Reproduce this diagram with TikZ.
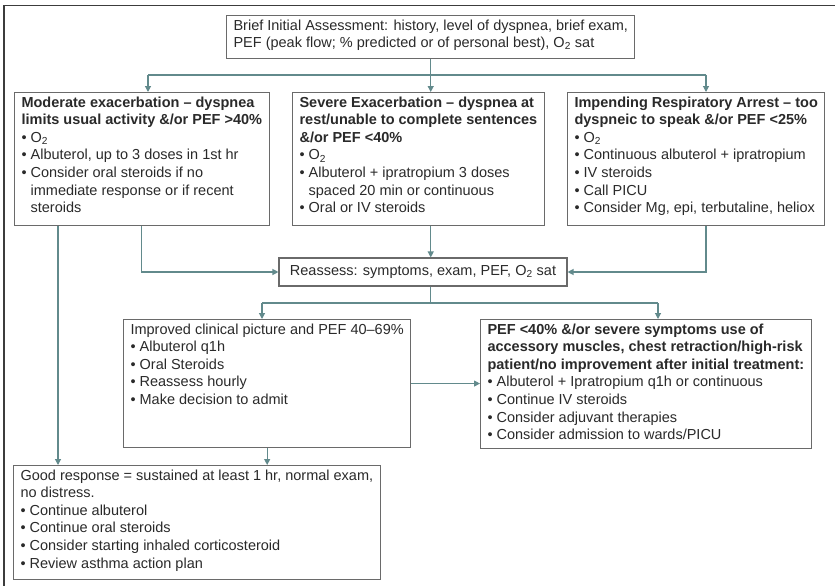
\documentclass[tikz,border=0pt]{standalone}
\usepackage{fontspec}
\setmainfont{Liberation Sans}
\usetikzlibrary{arrows.meta}
\definecolor{txt}{HTML}{2A2A2A}
\definecolor{bord}{HTML}{6A6A6A}
\definecolor{linkc}{HTML}{628A8C}
\definecolor{frm}{HTML}{3C3C3C}
\newcommand\bx[3]{\begin{minipage}[t][#2pt][t]{#1pt}#3\end{minipage}}
\newcommand\PL[1]{\hbox{#1}}
\newcommand\BL[1]{\hbox{\textbullet\ #1}}
\newcommand\CL[1]{\hbox{\phantom{\textbullet\ }#1}}
\newcommand\Ox{O\textsubscript{2}}
\begin{document}
\begin{tikzpicture}[x=1pt,y=-1pt,
  box/.style={draw=bord, line width=1.1pt, inner xsep=7pt, inner ysep=4pt, anchor=north west,
    text=txt, font=\fontsize{14.5}{17.6}\selectfont},
  link/.style={draw=linkc, line width=1.2pt},
  arr/.style={link, -{Triangle[width=6pt,length=6pt]}}]
\useasboundingbox (0,0) rectangle (835,586);
\fill[white] (0,0) rectangle (835,586);
\draw[frm, line width=1.8pt] (4,586) -- (4,5.5) -- (835,5.5);

\node[box] (top) at (226,15) {\bx{396}{35}{%
  \PL{Brief Initial Assessment: history, level of dyspnea, brief exam,}%
  \PL{PEF (peak flow; \% predicted or of personal best), \Ox\ sat}}};

\node[box] (mod) at (14,92) {\bx{255}{125}{%
  \PL{\bfseries Moderate exacerbation – dyspnea}%
  \PL{\bfseries limits usual activity \&/or PEF >40\%}%
  \BL{\Ox}%
  \BL{Albuterol, up to 3 doses in 1st hr}%
  \BL{Consider oral steroids if no}%
  \CL{immediate response or if recent}%
  \CL{steroids}}};

\node[box] (sev) at (292,92) {\bx{252}{125}{%
  \PL{\bfseries Severe Exacerbation – dyspnea at}%
  \PL{\bfseries rest/unable to complete sentences}%
  \PL{\bfseries \&/or PEF <40\%}%
  \BL{\Ox}%
  \BL{Albuterol + ipratropium 3 doses}%
  \CL{spaced 20 min or continuous}%
  \BL{Oral or IV steroids}}};

\node[box] (imp) at (567,92) {\bx{250}{125}{%
  \PL{\bfseries Impending Respiratory Arrest – too}%
  \PL{\bfseries dyspneic to speak \&/or PEF <25\%}%
  \BL{\Ox}%
  \BL{Continuous albuterol + ipratropium}%
  \BL{IV steroids}%
  \BL{Call PICU}%
  \BL{Consider Mg, epi, terbutaline, heliox}}};

\node[box, anchor=center, minimum width=288pt, minimum height=28pt] (rea) at (423,272)
  {Reassess: symptoms, exam, PEF, \Ox\ sat};

\node[box] (impr) at (123,319) {\bx{293}{120}{%
  \PL{Improved clinical picture and PEF 40–69\%}%
  \BL{Albuterol q1h}%
  \BL{Oral Steroids}%
  \BL{Reassess hourly}%
  \BL{Make decision to admit}}};

\node[box] (pef) at (480,319) {\bx{333}{121}{%
  \PL{\bfseries PEF <40\% \&/or severe symptoms use of}%
  \PL{\bfseries accessory muscles, chest retraction/high-risk}%
  \PL{\bfseries patient/no improvement after initial treatment:}%
  \BL{Albuterol + Ipratropium q1h or continuous}%
  \BL{Continue IV steroids}%
  \BL{Consider adjuvant therapies}%
  \BL{Consider admission to wards/PICU}}};

\node[box] (good) at (13,465) {\bx{358}{106}{%
  \PL{Good response = sustained at least 1 hr, normal exam,}%
  \PL{no distress.}%
  \BL{Continue albuterol}%
  \BL{Continue oral steroids}%
  \BL{Consider starting inhaled corticosteroid}%
  \BL{Review asthma action plan}}};

% branch from initial assessment
\coordinate (b1) at (148,75);
\coordinate (b3) at (706,75);
\draw[link] (top.south) -- (top.south |- b1);
\draw[link] (b1) -- (b3);
\draw[arr] (b1) -- (b1 |- mod.north);
\draw[arr] (top.south |- b1) -- (top.south |- sev.north);
\draw[arr] (b3) -- (b3 |- imp.north);

% into reassess
\draw[arr] (mod.south) -- (mod.south |- rea.west) -- (rea.west);
\draw[arr] (top.south |- sev.south) -- (top.south |- rea.north);
\draw[arr] (b3 |- imp.south) -- (b3 |- rea.east) -- (rea.east);

% moderate straight to good response
\coordinate (m1) at (58,0);
\draw[arr] (m1 |- mod.south) -- (m1 |- good.north);

% split after reassess
\coordinate (s1) at (262,303);
\coordinate (s2) at (658,303);
\draw[link] (top.south |- rea.south) -- (top.south |- s1);
\draw[link] (s1) -- (s2);
\draw[arr] (s1) -- (s1 |- impr.north);
\draw[arr] (s2) -- (s2 |- pef.north);

% improved -> severe/no improvement, improved -> good
\draw[arr] (impr.east) -- (impr.east -| pef.west);
\draw[arr] (impr.south) -- (impr.south |- good.north);
\end{tikzpicture}
\end{document}
